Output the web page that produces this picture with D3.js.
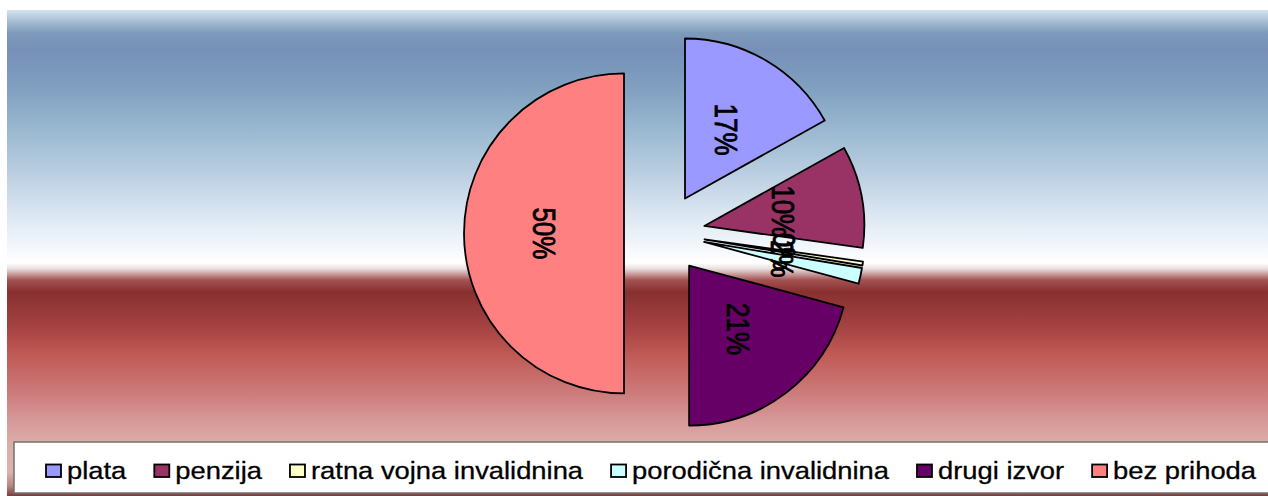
<!DOCTYPE html>
<html>
<head>
<meta charset="utf-8">
<script src="https://cdn.jsdelivr.net/npm/d3@7"></script>
<style>
  html, body { margin: 0; padding: 0; background: #fff; }
  svg { display: block; font-family: "Liberation Sans", Arial, sans-serif; }
</style>
</head>
<body>
<svg id="chart"></svg>
<script>
// data
var categories = ["plata", "penzija", "ratna vojna invalidnina", "porodična invalidnina", "drugi izvor", "bez prihoda"];
var values = [16.9, 10.3, 0.4, 1.6, 20.8, 50];
var colors = ["#9999ff", "#993366", "#ffffcc", "#ccffff", "#660066", "#ff8080"];

function init(){
    var width = 1268;
    var height = 496;
    var svg = d3.select("#chart").attr("width", width).attr("height", height);

    // background gradient
    var grad = svg.append("defs").append("linearGradient")
        .attr("id", "bg")
        .attr("gradientUnits", "userSpaceOnUse")
        .attr("x1", 0).attr("y1", 10).attr("x2", 0).attr("y2", 496);
    var stops = [
        [10, "#d4e4f0"], [22, "#a4bcd2"], [33, "#7c9aba"], [50, "#7890b8"],
        [70, "#7a98bc"], [95, "#84a4c2"], [130, "#9ab8d0"], [170, "#b8cce0"],
        [210, "#d8e4f0"], [245, "#f2f6fb"], [263, "#ffffff"], [269, "#e8dcdc"],
        [280, "#a45252"], [292, "#883030"], [330, "#a84444"], [355, "#c05a55"],
        [390, "#cc7878"], [420, "#d69898"], [442, "#dcaca8"], [472, "#deb2ae"],
        [486, "#b88484"], [496, "#7c3c3c"]
    ];
    grad.selectAll("stop")
        .data(stops)
        .enter()
        .append("stop")
        .attr("offset", function(d){ return (d[0] - 10) / 486; })
        .attr("stop-color", function(d){ return d[1]; });

    svg.append("rect")
        .attr("x", 7).attr("y", 10)
        .attr("width", width - 7).attr("height", height - 10)
        .attr("fill", "url(#bg)");

    // pie
    var cx = 664.5, cy = 233.4, r = 160, explode = 40.5;
    var pie = d3.pie().sort(null).value(function(d){ return d; });
    var arc = d3.arc().innerRadius(0).outerRadius(r);
    var arcs = pie(values);

    var slices = svg.append("g")
        .attr("transform", "translate(" + cx + "," + cy + ")")
        .selectAll("g")
        .data(arcs)
        .enter()
        .append("g")
        .attr("transform", function(d){
            var mid = (d.startAngle + d.endAngle) / 2;
            return "translate(" + (explode * Math.sin(mid)) + "," + (-explode * Math.cos(mid)) + ")";
        });

    slices.append("path")
        .attr("d", arc)
        .attr("fill", function(d, i){ return colors[i]; })
        .attr("stroke", "#000")
        .attr("stroke-width", 1.8)
        .attr("stroke-linejoin", "round");

    slices.append("text")
        .attr("transform", function(d){
            var c = arc.centroid(d);
            return "translate(" + c[0] + "," + c[1] + ") scale(1.2,1) rotate(90)";
        })
        .attr("text-anchor", "middle")
        .attr("dominant-baseline", "central")
        .style("font-size", "26px")
        .attr("fill", "#000")
        .attr("stroke", "#000")
        .attr("stroke-width", 0.7)
        .text(function(d){ return Math.round(d.value) + "%"; });

    // legend
    var legend = svg.append("g");
    legend.append("rect")
        .attr("x", 14).attr("y", 442)
        .attr("width", width + 10).attr("height", 51)
        .attr("fill", "#fff")
        .attr("stroke", "#707070")
        .attr("stroke-width", 1.5);

    var sx = 1.14;
    var x = 46;
    for(var i=0;i<categories.length;i++){
        legend.append("rect")
            .attr("x", x).attr("y", 464.5)
            .attr("width", 15).attr("height", 12.5)
            .attr("fill", colors[i])
            .attr("stroke", "#000")
            .attr("stroke-width", 1.8);
        var t = legend.append("text")
            .attr("transform", "translate(" + (x + 21) + ",478.5) scale(" + sx + ",1)")
            .style("font-size", "24px")
            .attr("fill", "#000")
            .attr("stroke", "#000")
            .attr("stroke-width", 0.3)
            .text(categories[i]);
        x = x + 21 + t.node().getComputedTextLength() * sx + 28;
    }
}
init();
</script>
</body>
</html>
